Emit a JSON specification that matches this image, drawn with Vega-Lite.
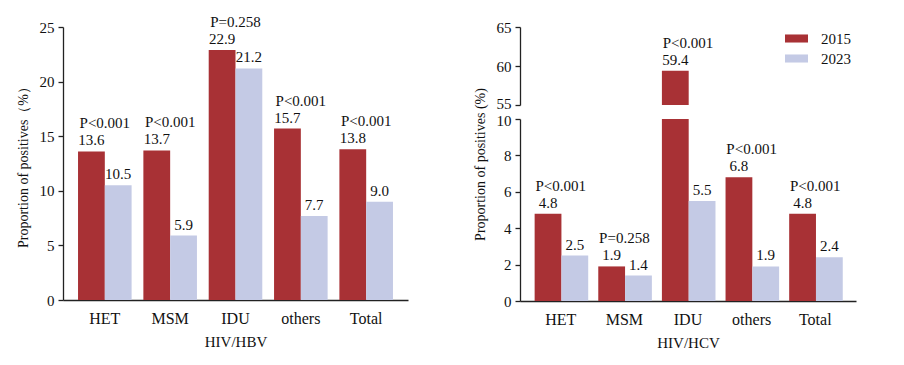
{
  "$schema": "https://vega.github.io/schema/vega-lite/v6.json",
  "background": "white",
  "padding": {"left": 16, "top": 14, "right": 5, "bottom": 5},
  "config": {
    "font": "Liberation Serif",
    "view": {"stroke": null},
    "axis": {
      "labelFont": "Liberation Serif", "titleFont": "Liberation Serif",
      "labelFontSize": 15, "titleFontSize": 15, "titleFontWeight": "normal",
      "labelColor": "#111", "titleColor": "#111",
      "domainColor": "#222", "tickColor": "#222", "grid": false,
      "domainWidth": 1.3, "tickWidth": 1.3
    },
    "axisY": {"tickSize": 5, "labelPadding": 4, "titleFontSize": 14, "titlePadding": 9},
    "axisX": {"ticks": false, "labelPadding": 10, "titlePadding": 8, "labelAngle": 0, "labelFontSize": 16},
    "legend": {"labelFont": "Liberation Serif", "labelFontSize": 15, "labelColor": "#111"},
    "text": {"font": "Liberation Serif", "fontSize": 15, "color": "#111"}
  },
  "datasets": {
    "hbv": [
      {"group": "HET", "year": "2015", "value": 13.6, "p": "P<0.001"},
      {"group": "HET", "year": "2023", "value": 10.5},
      {"group": "MSM", "year": "2015", "value": 13.7, "p": "P<0.001"},
      {"group": "MSM", "year": "2023", "value": 5.9},
      {"group": "IDU", "year": "2015", "value": 22.9, "p": "P=0.258"},
      {"group": "IDU", "year": "2023", "value": 21.2},
      {"group": "others", "year": "2015", "value": 15.7, "p": "P<0.001"},
      {"group": "others", "year": "2023", "value": 7.7},
      {"group": "Total", "year": "2015", "value": 13.8, "p": "P<0.001"},
      {"group": "Total", "year": "2023", "value": 9.0}
    ],
    "hcv": [
      {"group": "HET", "year": "2015", "value": 4.8, "p": "P<0.001"},
      {"group": "HET", "year": "2023", "value": 2.5},
      {"group": "MSM", "year": "2015", "value": 1.9, "p": "P=0.258"},
      {"group": "MSM", "year": "2023", "value": 1.4},
      {"group": "IDU", "year": "2015", "value": 59.4, "p": "P<0.001"},
      {"group": "IDU", "year": "2023", "value": 5.5},
      {"group": "others", "year": "2015", "value": 6.8, "p": "P<0.001"},
      {"group": "others", "year": "2023", "value": 1.9},
      {"group": "Total", "year": "2015", "value": 4.8, "p": "P<0.001"},
      {"group": "Total", "year": "2023", "value": 2.4}
    ]
  },
  "bounds": "flush",
  "spacing": 112,
  "resolve": {"scale": {"x": "independent", "y": "independent", "color": "independent"}, "legend": {"color": "independent"}},
  "hconcat": [
    {
      "width": 345, "height": 273,
      "data": {"name": "hbv"},
      "encoding": {
        "x": {"field": "group", "type": "nominal", "sort": null,
              "scale": {"domain": ["HET", "MSM", "IDU", "others", "Total"], "paddingInner": 0.18, "paddingOuter": 0.23},
              "axis": {"title": "HIV/HBV"}},
        "y": {"field": "value", "type": "quantitative",
              "scale": {"domain": [0, 25]},
              "axis": {"values": [0, 5, 10, 15, 20, 25], "title": "Proportion of positives（%）"}}
      },
      "layer": [
        {
          "mark": {"type": "bar"},
          "encoding": {
            "xOffset": {"field": "year", "type": "nominal", "scale": {"domain": ["2015", "2023"]}},
            "color": {"field": "year", "type": "nominal", "scale": {"domain": ["2015", "2023"], "range": ["#A83135", "#C4CAE5"]}, "legend": null}
          }
        },
        {
          "mark": {"type": "text", "baseline": "alphabetic", "dy": -6},
          "encoding": {
            "xOffset": {"field": "year", "type": "nominal", "scale": {"domain": ["2015", "2023"]}},
            "text": {"field": "value", "type": "quantitative", "format": ".1f"}
          }
        },
        {
          "transform": [{"filter": "datum.p"}],
          "mark": {"type": "text", "baseline": "alphabetic", "dy": -23},
          "encoding": {"text": {"field": "p", "type": "nominal"}}
        }
      ]
    },
    {
      "bounds": "flush",
      "spacing": 14,
      "resolve": {"scale": {"x": "independent", "y": "independent", "color": "independent"}, "legend": {"color": "independent"}},
      "vconcat": [
        {
          "width": 336, "height": 78,
          "data": {"name": "hcv"},
          "transform": [{"filter": "datum.value >= 55"}],
          "encoding": {
            "x": {"field": "group", "type": "nominal", "sort": null,
                  "scale": {"domain": ["HET", "MSM", "IDU", "others", "Total"], "paddingInner": 0.18, "paddingOuter": 0.23},
                  "axis": null},
            "y": {"field": "value", "type": "quantitative",
                  "scale": {"domain": [55, 65]},
                  "axis": {"values": [55, 60, 65], "title": null,
                           "labelOffset": {"condition": {"test": "datum.value === 55", "value": -1.5}, "value": 0}}}
          },
          "layer": [
            {
              "mark": {"type": "bar", "clip": true},
              "encoding": {
                "xOffset": {"field": "year", "type": "nominal", "scale": {"domain": ["2015", "2023"]}},
                "color": {"field": "year", "type": "nominal", "scale": {"domain": ["2015", "2023"], "range": ["#A83135", "#C4CAE5"]},
                          "legend": {"title": null, "orient": "none", "legendX": 265, "legendY": 0, "padding": 0,
                                     "symbolType": "M-1,-0.35L1,-0.35L1,0.35L-1,0.35Z", "symbolSize": 529,
                                     "symbolStrokeWidth": 0, "labelOffset": 13, "rowPadding": 0}}
              }
            },
            {
              "mark": {"type": "text", "baseline": "alphabetic", "dy": -6},
              "encoding": {
                "xOffset": {"field": "year", "type": "nominal", "scale": {"domain": ["2015", "2023"]}},
                "text": {"field": "value", "type": "quantitative", "format": ".1f"}
              }
            },
            {
              "transform": [{"filter": "datum.p"}],
              "mark": {"type": "text", "baseline": "alphabetic", "dy": -23},
              "encoding": {"text": {"field": "p", "type": "nominal"}}
            }
          ]
        },
        {
          "width": 336, "height": 182,
          "data": {"name": "hcv"},
          "encoding": {
            "x": {"field": "group", "type": "nominal", "sort": null,
                  "scale": {"domain": ["HET", "MSM", "IDU", "others", "Total"], "paddingInner": 0.18, "paddingOuter": 0.23},
                  "axis": {"title": "HIV/HCV"}},
            "y": {"field": "value", "type": "quantitative",
                  "scale": {"domain": [0, 10]},
                  "axis": {"values": [0, 2, 4, 6, 8, 10], "title": "Proportion of positives (%)", "titleY": 45,
                           "labelOffset": {"condition": {"test": "datum.value === 10", "value": 1.5}, "value": 0}}}
          },
          "layer": [
            {
              "mark": {"type": "bar", "clip": true},
              "encoding": {
                "xOffset": {"field": "year", "type": "nominal", "scale": {"domain": ["2015", "2023"]}},
                "color": {"field": "year", "type": "nominal", "scale": {"domain": ["2015", "2023"], "range": ["#A83135", "#C4CAE5"]}, "legend": null}
              }
            },
            {
              "transform": [{"filter": "datum.value <= 10"}],
              "mark": {"type": "text", "baseline": "alphabetic", "dy": -6},
              "encoding": {
                "xOffset": {"field": "year", "type": "nominal", "scale": {"domain": ["2015", "2023"]}},
                "text": {"field": "value", "type": "quantitative", "format": ".1f"}
              }
            },
            {
              "transform": [{"filter": "datum.p && datum.value <= 10"}],
              "mark": {"type": "text", "baseline": "alphabetic", "dy": -23},
              "encoding": {"text": {"field": "p", "type": "nominal"}}
            }
          ]
        }
      ]
    }
  ]
}
